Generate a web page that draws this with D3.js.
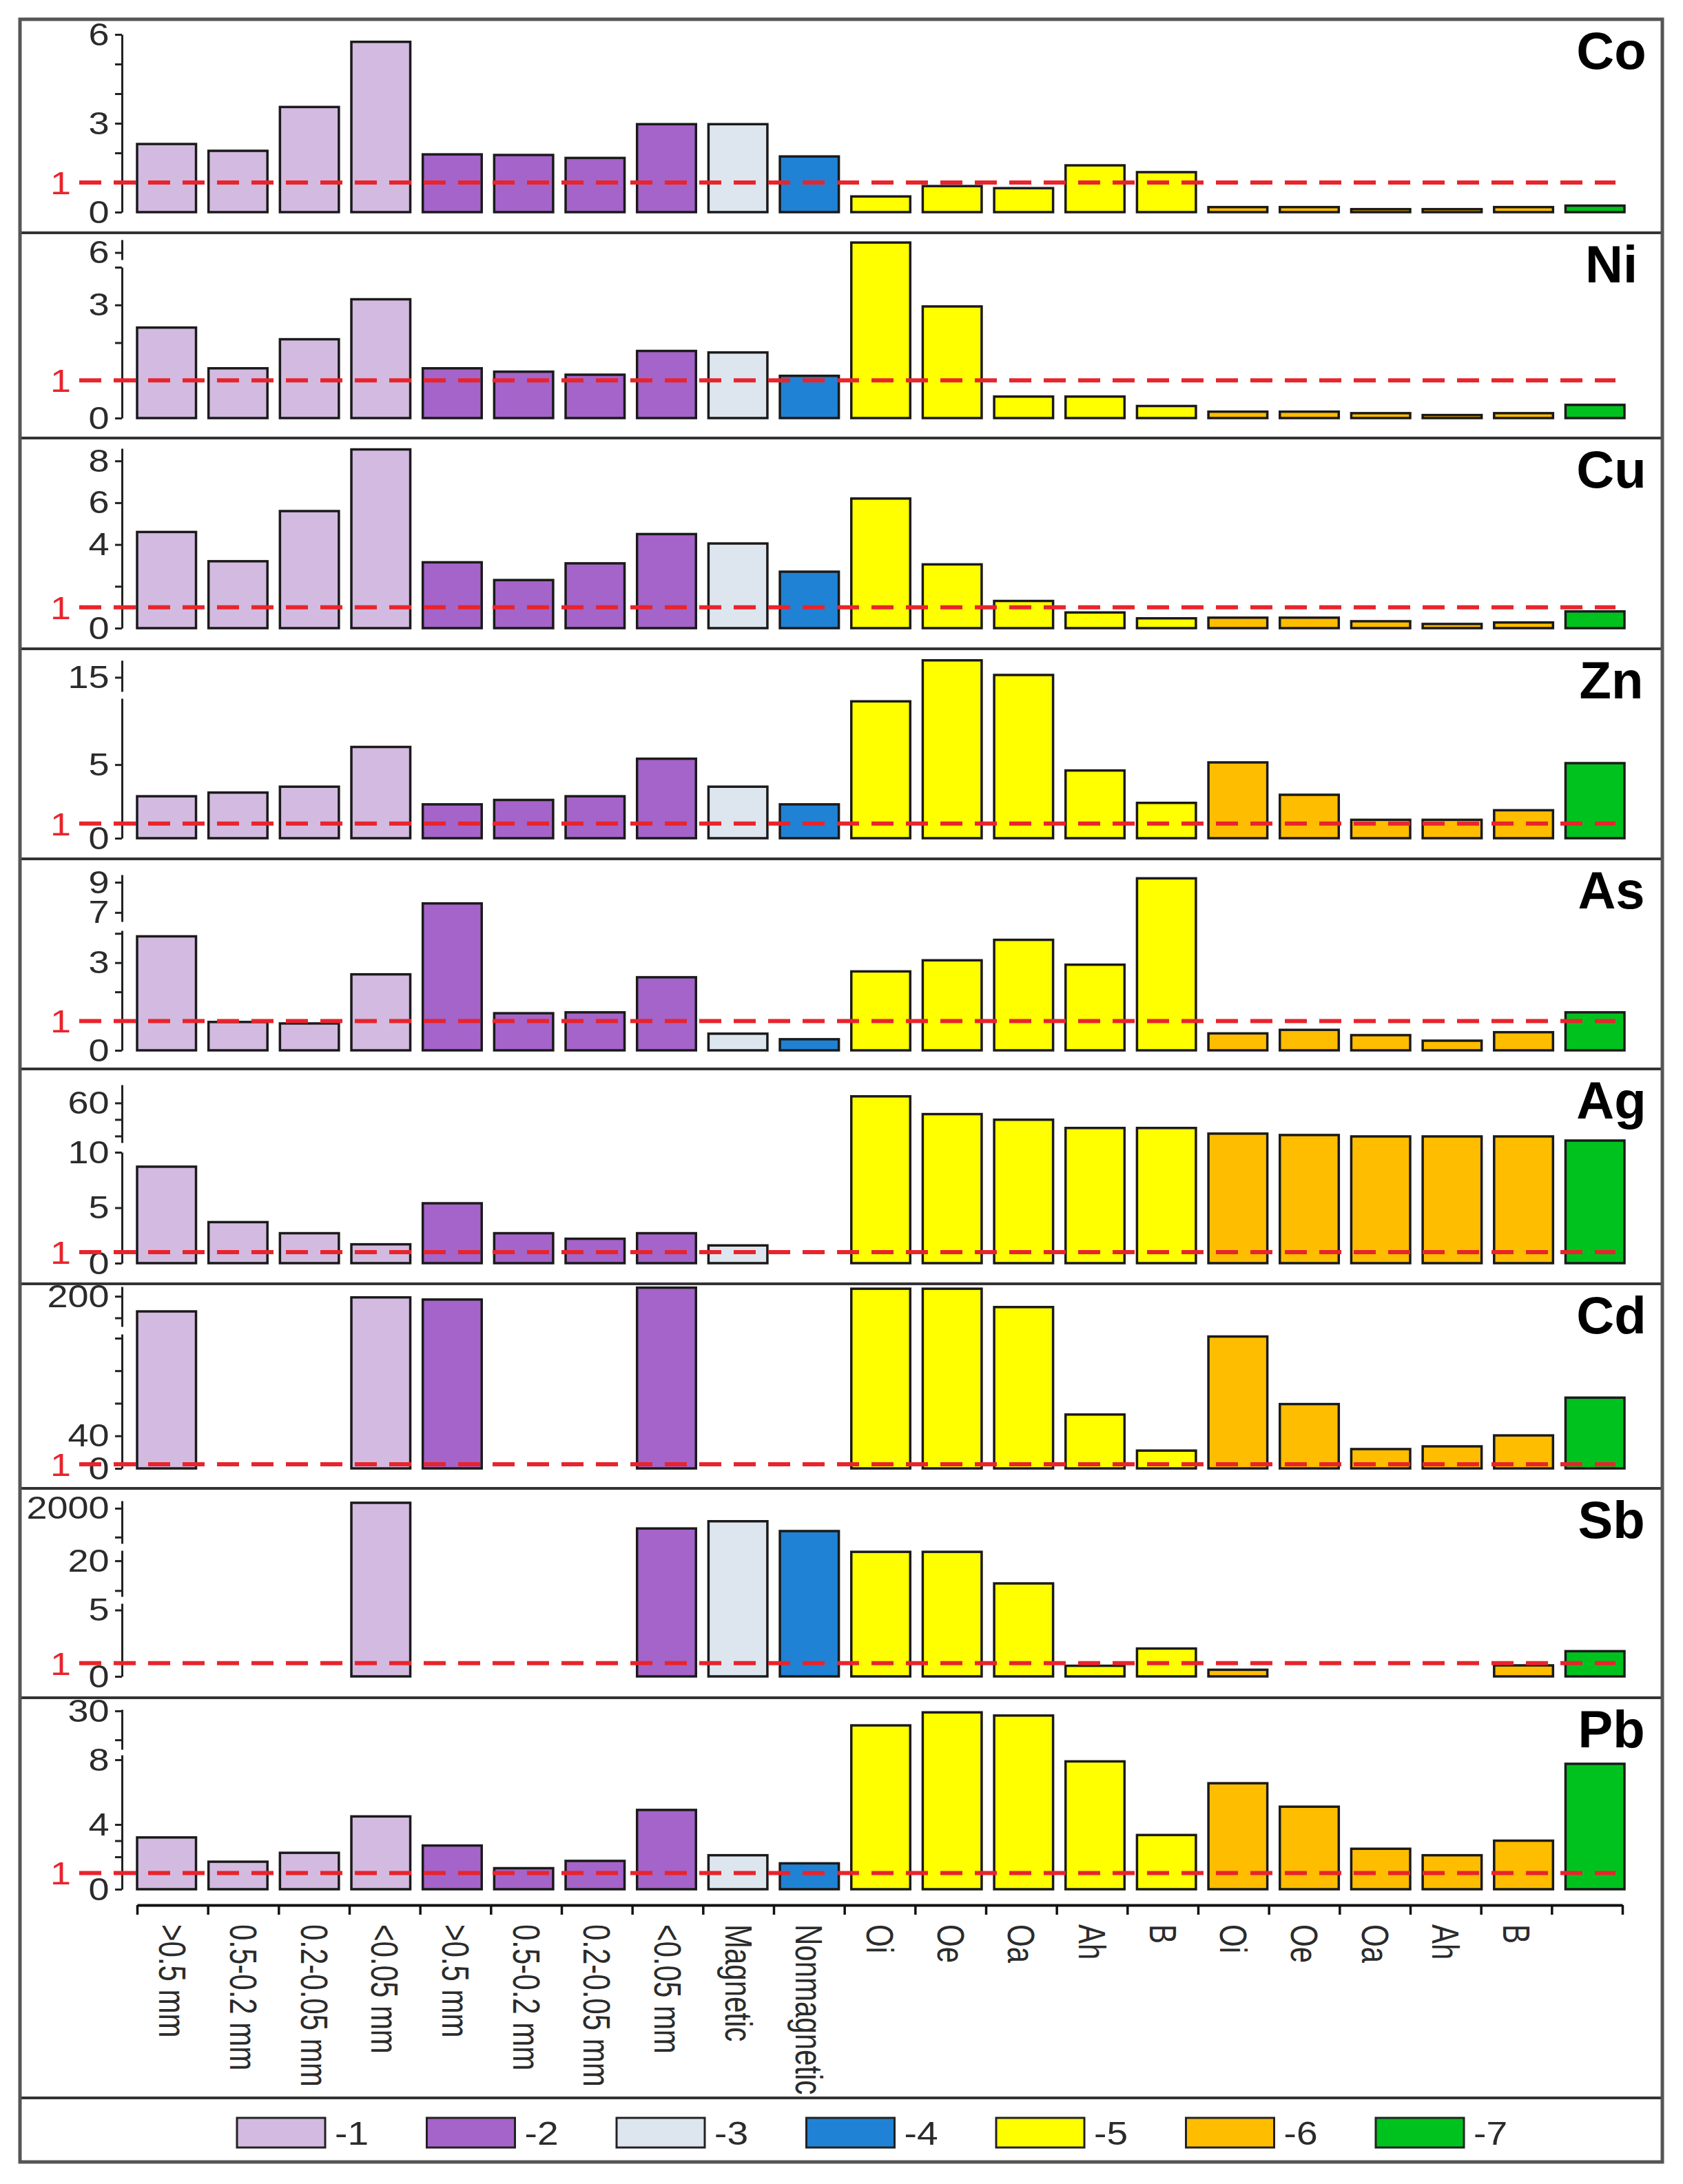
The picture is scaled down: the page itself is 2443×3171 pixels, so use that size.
<!DOCTYPE html>
<html lang="en">
<head>
  <meta charset="UTF-8">
  <title>Enrichment factors by fraction and horizon</title>
  <script src="https://d3js.org/d3.v7.min.js"></script>
  <style>
    body {
      margin: 0;
      background-color: #fff;
      font-family: "Liberation Sans", Arial, sans-serif;
    }
    svg { display: block; }
  </style>
</head>
<body>
<div id="chart"></div>

<script>
  // Categories along the x axis (21 bars per panel)
  const categories = [">0.5 mm", "0.5-0.2 mm", "0.2-0.05 mm", "<0.05 mm",
    ">0.5 mm", "0.5-0.2 mm", "0.2-0.05 mm", "<0.05 mm", "Magnetic", "Nonmagnetic",
    "Oi", "Oe", "Oa", "Ah", "B", "Oi", "Oe", "Oa", "Ah", "B", ""];
  const groups = [1, 1, 1, 1, 2, 2, 2, 2, 3, 4, 5, 5, 5, 5, 5, 6, 6, 6, 6, 6, 7];
  const legendLabels = ["-1", "-2", "-3", "-4", "-5", "-6", "-7"];

  const elements = ["Co", "Ni", "Cu", "Zn", "As", "Ag", "Cd", "Sb", "Pb"];

  // values (null = no bar)
  const co = [2.3, 2.07, 3.55, 5.75, 1.95, 1.93, 1.83, 2.97, 2.97, 1.88, 0.53, 0.88, 0.81, 1.58, 1.35, 0.17, 0.17, 0.1, 0.1, 0.17, 0.22];
  const ni = [2.4, 1.32, 2.09, 3.15, 1.32, 1.23, 1.15, 1.78, 1.74, 1.12, 6.7, 2.96, 0.57, 0.57, 0.32, 0.17, 0.17, 0.13, 0.08, 0.13, 0.35];
  const cu = [4.6, 3.2, 5.6, 8.55, 3.15, 2.3, 3.1, 4.5, 4.05, 2.7, 6.2, 3.05, 1.3, 0.75, 0.47, 0.5, 0.5, 0.33, 0.2, 0.27, 0.8];
  const zn = [2.85, 3.1, 3.5, 6.2, 2.3, 2.6, 2.85, 5.4, 3.5, 2.3, 9.3, 18.6, 15.5, 4.6, 2.4, 5.15, 2.95, 1.25, 1.25, 1.9, 5.1];
  const as = [3.9, 0.97, 0.92, 2.6, 7.6, 1.27, 1.3, 2.5, 0.57, 0.38, 2.7, 3.08, 3.78, 2.93, 9.26, 0.58, 0.7, 0.52, 0.33, 0.62, 1.3];
  const ag = [8.7, 3.7, 2.7, 1.7, 5.4, 2.7, 2.2, 2.7, 1.6, null, 68, 46.5, 39.7, 29.7, 29.7, 22.9, 21.2, 19.5, 19.5, 19.5, 14.5];
  const cd = [186, null, null, 199, 197, null, null, 208, null, null, 207, 207, 190, 65, 19, 162, 78, 21, 24.6, 39, 86];
  const sb = [null, null, null, 2190, null, null, null, 1300, 1550, 1210, 23, 23, 12.4, 0.8, 2.1, 0.5, null, null, null, 0.83, 1.9];
  const pb = [3.2, 1.7, 2.25, 4.5, 2.7, 1.3, 1.75, 4.9, 2.1, 1.6, 25, 29.5, 28.4, 7.9, 3.35, 6.55, 5.1, 2.5, 2.1, 3.0, 7.75];
  const series = [co, ni, cu, zn, as, ag, cd, sb, pb];

  // broken y axes: domain breakpoints, axis pieces and tick values
  const breakDomains = [
    [0, 6], [0, 4, 5.5, 6.9], [0, 8.6], [0, 9.5, 12, 19], [0, 4.1, 6.4, 9.5],
    [0, 10, 12, 82], [0, 1, 40, 165, 172, 209], [0, 5.5, 8, 23.5, 780, 2260], [0, 8.3, 16.7, 30.5]
  ];
  const axisPieces = [
    [[0, 6]], [[0, 4], [5.5, 6.9]], [[0, 8.6]], [[0, 9.5], [12, 18.6]], [[0, 4.1], [6.4, 9.5]],
    [[0, 10], [12, 82]], [[0, 165], [172, 209]], [[0, 5.5], [8, 23.5], [780, 2260]], [[0, 8.3], [16.7, 30.5]]
  ];
  const majorTicks = [[0, 3, 6], [0, 3, 6], [0, 4, 6, 8], [0, 5, 15], [0, 3, 7, 9],
    [0, 5, 10, 60], [0, 40, 200], [0, 5, 20, 2000], [0, 4, 8, 30]];
  const minorTicks = [[1, 2, 4, 5], [1, 2, 4], [1, 2], [1], [1, 2, 4],
    [1, 20, 40], [80, 120, 160, 180], [1, 10, 1000], [1, 2, 3, 20]];

  // ---- layout ----
  const width = 2443, height = 3171;
  const panelTops = [28, 338, 636, 942, 1247, 1552, 1864, 2161, 2465];
  const dividers = [338, 636, 942, 1247, 1552, 1864, 2161, 2465, 3046];
  // pixel offsets (from panel top) for each breakpoint above
  const breakOffsets = [
    [280, 22], [269, 50, 39, 10], [276, 15], [275, 72, 62, 14], [278, 104, 91, 23],
    [282, 121, 107, 23], [268, 262, 219, 73, 62, 4], [273, 167, 157, 90, 80, 18], [278, 83, 75, 17]
  ];
  const axisX = 177;
  const xAxisY = 2766;

  const colors = { 1: "#d3bae0", 2: "#a564c9", 3: "#dde6ef", 4: "#2082d4",
                   5: "#ffff00", 6: "#ffbd00", 7: "#00c21e" };
  const red = "#e8242c";

  const svg = d3.select("#chart").append("svg")
    .attr("width", width)
    .attr("height", height);

  svg.append("rect").attr("width", width).attr("height", height).attr("fill", "#fff");

  const x = d3.scaleBand()
    .domain(d3.range(categories.length))
    .range([199, 2358])
    .paddingInner(0.175)
    .paddingOuter(0)
    .align(0);

  const xTick = d3.scaleLinear().domain([0, categories.length]).range([199, 2355]);

  elements.forEach((el, p) => {
    const top = panelTops[p];
    const y = d3.scaleLinear()
      .domain(breakDomains[p])
      .range(breakOffsets[p].map(o => top + o));
    const g = svg.append("g").attr("class", "panel");

    // bars
    g.selectAll("rect.bar")
      .data(series[p].map((v, i) => ({ v, i })).filter(d => d.v != null))
      .enter().append("rect")
      .attr("class", "bar")
      .attr("x", d => x(d.i))
      .attr("width", x.bandwidth())
      .attr("y", d => y(d.v))
      .attr("height", d => y(0) - y(d.v))
      .attr("fill", d => colors[groups[d.i]])
      .attr("stroke", "#1a1a1a")
      .attr("stroke-width", 3.5);

    // y axis, one piece per unbroken segment
    axisPieces[p].forEach(seg => {
      const ys = d3.scaleLinear().domain(seg).range([y(seg[0]), y(seg[1])]);
      const inSeg = t => t >= seg[0] - 1e-9 && t <= seg[1] + 1e-9;
      const minor = g.append("g")
        .attr("transform", `translate(${axisX},0)`)
        .call(d3.axisLeft(ys).tickValues(minorTicks[p].filter(inSeg)).tickSize(10).tickSizeOuter(0).tickFormat(""));
      minor.select(".domain").remove();
      const major = g.append("g")
        .attr("transform", `translate(${axisX},0)`)
        .call(d3.axisLeft(ys).tickValues(majorTicks[p].filter(inSeg)).tickSize(10).tickSizeOuter(0)
          .tickPadding(6).tickFormat(d => String(d)));
      [minor, major].forEach(a => {
        a.selectAll("line").attr("stroke", "#222").attr("stroke-width", 3);
      });
      major.select(".domain").attr("stroke", "#222").attr("stroke-width", 3);
      major.selectAll("text")
        .attr("fill", "#2b2b2b")
        .style("font-size", "47px")
        .attr("transform", "scale(1.15,1)");
    });

    // reference line at 1
    g.append("line")
      .attr("x1", 115).attr("x2", 2345)
      .attr("y1", y(1)).attr("y2", y(1))
      .attr("stroke", red)
      .attr("stroke-width", 6)
      .attr("stroke-dasharray", "32 18");
    g.append("text")
      .attr("transform", `translate(103,${y(1)}) scale(1.15,1)`)
      .attr("dy", "0.36em")
      .attr("text-anchor", "end")
      .attr("fill", red)
      .style("font-size", "47px")
      .text("1");

    // element name
    g.append("text")
      .attr("x", 2339)
      .attr("y", top + 72)
      .attr("text-anchor", "middle")
      .style("font-size", "76px")
      .style("font-weight", "bold")
      .attr("fill", "#000")
      .text(el);
  });

  // x axis under the last panel
  const xa = svg.append("g")
    .attr("transform", `translate(0,${xAxisY})`)
    .call(d3.axisBottom(xTick).tickValues(d3.range(categories.length + 1)).tickSize(14).tickSizeOuter(0).tickFormat(""));
  xa.select(".domain").attr("stroke", "#111").attr("stroke-width", 4);
  xa.selectAll("line").attr("stroke", "#111").attr("stroke-width", 3.5);

  svg.append("g").selectAll("text")
    .data(categories)
    .enter().append("text")
    .attr("transform", (d, i) => `translate(${xTick(i + 0.5)},2794) rotate(90) scale(1,1.3)`)
    .attr("dominant-baseline", "central")
    .attr("fill", "#2b2b2b")
    .style("font-size", "42px")
    .text(d => d);

  // panel dividers and frame
  svg.append("g").selectAll("line")
    .data(dividers)
    .enter().append("line")
    .attr("x1", 29).attr("x2", 2413)
    .attr("y1", d => d).attr("y2", d => d)
    .attr("stroke", "#333")
    .attr("stroke-width", 4);

  svg.append("rect")
    .attr("x", 29).attr("y", 28)
    .attr("width", 2384).attr("height", 3111)
    .attr("fill", "none")
    .attr("stroke", "#555")
    .attr("stroke-width", 5);

  // legend
  const lx = d3.scaleLinear().domain([0, legendLabels.length - 1]).range([344, 1997]);
  const leg = svg.append("g").selectAll("g")
    .data(legendLabels)
    .enter().append("g")
    .attr("transform", (d, i) => `translate(${lx(i)},3075)`);
  leg.append("rect")
    .attr("width", 128).attr("height", 43)
    .attr("fill", (d, i) => colors[i + 1])
    .attr("stroke", "#222")
    .attr("stroke-width", 3);
  leg.append("text")
    .attr("transform", "translate(142,22) scale(1.15,1)")
    .attr("dy", "0.36em")
    .attr("fill", "#2b2b2b")
    .style("font-size", "48px")
    .text(d => d);
</script>
</body>
</html>
